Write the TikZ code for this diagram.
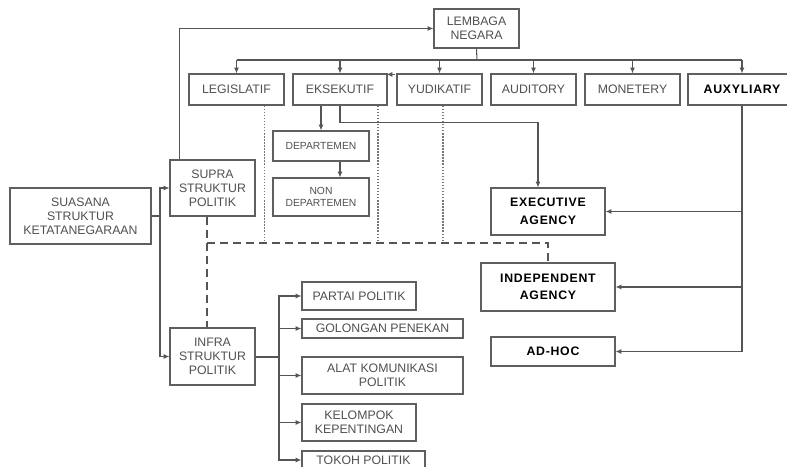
\documentclass[tikz,border=0pt]{standalone}
\usepackage{fontspec}
\setmainfont{Liberation Sans}
\usetikzlibrary{positioning,arrows.meta,calc}
\definecolor{ink}{RGB}{80,80,80}
\definecolor{frame}{RGB}{95,95,95}
\definecolor{wirec}{RGB}{85,85,85}
\tikzset{
  box/.style={draw=frame, fill=white, align=center, inner sep=1pt,
    font=\fontsize{10.5}{12}\selectfont, text=ink, line width=1pt},
  sbox/.style={box, font=\fontsize{8.8}{10.2}\selectfont},
  bbox/.style={box, text=black,
    font=\fontsize{10.5}{15}\selectfont\bfseries\addfontfeature{LetterSpace=6}},
  sz/.style 2 args={minimum width=#1*0.3mm, minimum height=#2*0.3mm},
  flow/.style={-{Latex[length=1.7mm,width=1.5mm]}, line width=0.9pt, draw=wirec},
  wire/.style={line width=0.9pt, draw=wirec},
  dotln/.style={dash pattern=on 1.3pt off 1.3pt, line width=0.9pt, draw=wirec!80},
  dashln/.style={dash pattern=on 2.4mm off 1.5mm, line width=1.2pt, draw=wirec},
}
\begin{document}
\begin{tikzpicture}[x=0.3mm, y=-0.3mm]
  \useasboundingbox (0,0) rectangle (787,467);
  \clip (0,0) rectangle (787,467);
  % left column
  \node[box, sz={141}{56}] (sua) at (80.5,216) {SUASANA\\STRUKTUR\\KETATANEGARAAN};
  \node[box, sz={85}{56}] (supra) at (212.5,188) {SUPRA\\STRUKTUR\\POLITIK};
  \node[box, sz={85}{57}] (infra) at (212.5,356.5) {INFRA\\STRUKTUR\\POLITIK};
  % lembaga negara and its branches
  \node[box, sz={85}{39}] (lem) at (476.5,28.5) {LEMBAGA\\NEGARA};
  \node[box, sz={95}{31}] (leg) at (236.5,89.5) {LEGISLATIF};
  \node[box, sz={94}{31}] (eks) at (340,89.5) {EKSEKUTIF};
  \node[box, sz={85}{31}] (yud) at (439.5,89.5) {YUDIKATIF};
  \node[box, sz={85}{31}] (aud) at (533.5,89.5) {AUDITORY};
  \node[box, sz={95}{31}] (mon) at (632.5,89.5) {MONETERY};
  \node[bbox, sz={108}{31}] (aux) at (742,89.5) {AUXYLIARY};
  \node[sbox, sz={96}{30}] (dep) at (321,146) {DEPARTEMEN};
  \node[sbox, sz={96}{38}] (ndep) at (321,197) {NON\\DEPARTEMEN};
  % agencies
  \node[bbox, sz={114}{47}] (exe) at (548,211.5) {EXECUTIVE\\AGENCY};
  \node[bbox, sz={134}{48}] (ind) at (548,287) {INDEPENDENT\\AGENCY};
  \node[bbox, sz={124}{29}] (adhoc) at (553,351.5) {AD-HOC};
  % infra branches
  \node[box, sz={114}{28}] (partai) at (359,296) {PARTAI POLITIK};
  \node[box, sz={161}{19}] (gol) at (382.5,328.5) {GOLONGAN PENEKAN};
  \node[box, sz={161}{37}] (alat) at (382.5,375.5) {ALAT KOMUNIKASI\\POLITIK};
  \node[box, sz={114}{37}] (kel) at (359,422.5) {KELOMPOK\\KEPENTINGAN};
  \node[box, sz={123}{18}] (tokoh) at (363.5,460) {TOKOH POLITIK};

  % suasana to supra / infra
  \coordinate (jv) at (160,216);
  \draw[wire] (sua.east |- jv) -- (jv);
  \draw[flow] (jv) |- (supra.west);
  \draw[flow] (jv) |- (infra.west);
  % supra to lembaga
  \draw[flow] ($(supra.north west)+(10,0)$) |- (lem.west);
  % lembaga bus
  \coordinate (bus) at (477,60);
  \draw[wire] (lem.south) -- (bus);
  \draw[wire] (bus -| leg.north) -- (bus -| aux.north);
  \foreach \n in {leg,eks,yud,aud,mon,aux}
    \draw[flow] (bus -| \n.north) -- (\n.north);
  \draw[flow] ($(eks.north east)+(7,1)$) -- ($(eks.north east)+(-1,1)$);
  % eksekutif
  \draw[flow] (eks.south -| dep.north) -- (dep.north);
  \draw[flow] (dep.south -| eks.south) -- (ndep.north -| eks.south);
  \draw[flow] (eks.south) -- ++(0,17) -| ($(exe.north)+(-10,0)$);
  % auxyliary
  \draw[flow] (aux.south) |- (adhoc.east);
  \draw[flow] (aux.south) |- (exe.east);
  \draw[flow] (aux.south) |- (ind.east);
  % dotted and dashed links
  \coordinate (dj) at (207,243);
  \coordinate (dl) at ($(leg.south)+(28,0)$);
  \coordinate (de) at ($(eks.south)+(38,0)$);
  \coordinate (dy) at ($(yud.south)+(3.5,0)$);
  \foreach \c in {dl,de,dy}
    \draw[dotln] (\c) -- (\c |- dj);
  \draw[dashln] (supra.south -| dj) -- (infra.north -| dj);
  \draw[dashln] (dj) -| (ind.north);
  % infra bus
  \coordinate (ib) at (279,357);
  \draw[wire] (infra.east |- ib) -- (ib);
  \foreach \n in {partai,gol,alat,kel,tokoh}
    \draw[flow] (ib) |- (\n.west);
\end{tikzpicture}
\end{document}
